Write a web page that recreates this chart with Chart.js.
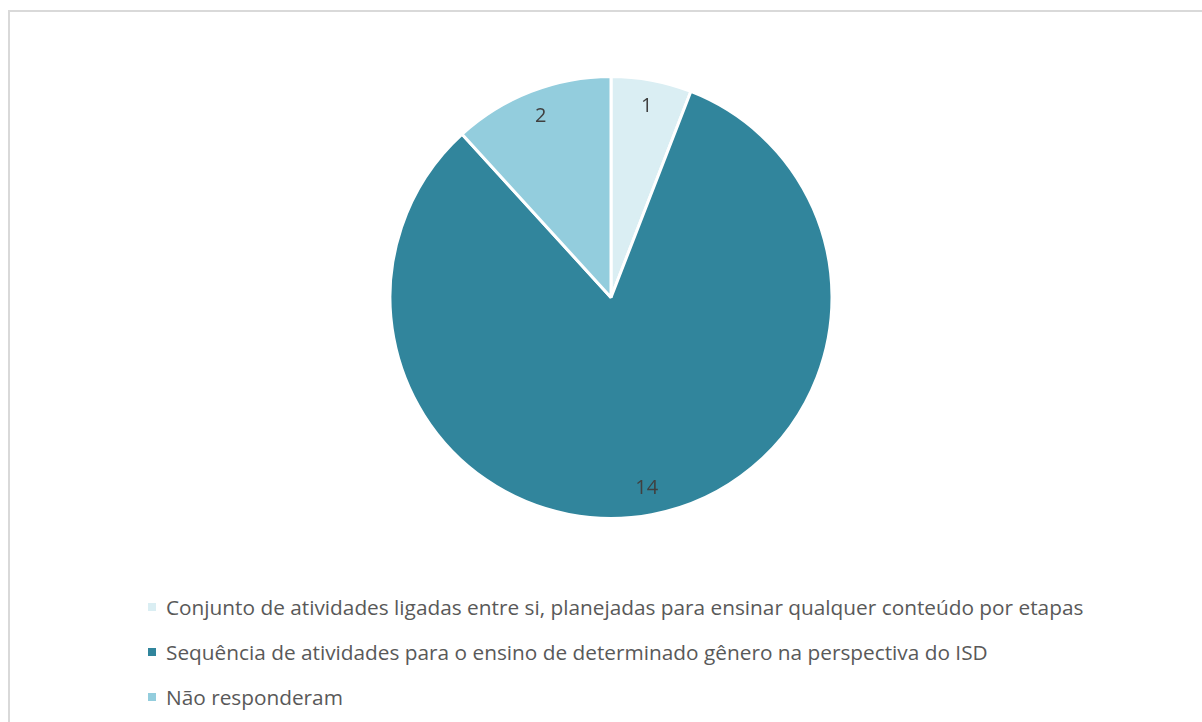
<!DOCTYPE html>
<html>
<head>
<meta charset="utf-8">
<script src="https://cdn.jsdelivr.net/npm/chart.js@4/dist/chart.umd.min.js"></script>
<style>
    html, body { margin: 0; padding: 0; background: #fff; width: 1202px; height: 722px; overflow: hidden; }
    .frame { position: absolute; left: 8px; top: 10px; width: 1300px; height: 800px; border: 2px solid #d9d9d9; box-sizing: border-box; }
    .chart-box { position: absolute; left: 0; top: 74.5px; width: 1222px; height: 445px; }
    .legend { position: absolute; left: 148px; top: 584px; font-family: "Open Sans", sans-serif; font-size: 20.8px; color: #595959; }
    .legend-item { height: 45px; display: flex; align-items: center; white-space: nowrap; }
    .legend-box { width: 8px; height: 8px; margin-right: 10px; flex: none; }
</style>
</head>
<body>
<div class="frame"></div>
<div class="chart-box"><canvas id="pieChart"></canvas></div>
<div class="legend" id="legend"></div>
<script>
// Chart data
const categories = [
    'Conjunto de atividades ligadas entre si, planejadas para ensinar qualquer conteúdo por etapas',
    'Sequência de atividades para o ensino de determinado gênero na perspectiva do ISD',
    'Não responderam'
];
const responses = [1, 14, 2];
const sliceColors = ['#daeef3', '#31859c', '#93cddd'];

// Value labels drawn inside each slice, near the outer edge
const sliceLabels = {
    id: 'sliceLabels',
    afterDatasetsDraw(chart) {
        const ctx = chart.ctx;
        const meta = chart.getDatasetMeta(0);
        ctx.save();
        ctx.font = '20px "Open Sans", sans-serif';
        ctx.fillStyle = '#404040';
        ctx.textAlign = 'center';
        ctx.textBaseline = 'middle';
        meta.data.forEach((arc, i) => {
            const p = arc.getProps(['x', 'y', 'startAngle', 'endAngle', 'outerRadius'], true);
            const mid = (p.startAngle + p.endAngle) / 2;
            const r = p.outerRadius * 0.88;
            ctx.fillText(String(responses[i]), p.x + Math.cos(mid) * r, p.y + Math.sin(mid) * r);
        });
        ctx.restore();
    }
};

new Chart(document.getElementById('pieChart'), {
    type: 'pie',
    data: {
        labels: categories,
        datasets: [{
            data: responses,
            backgroundColor: sliceColors,
            borderColor: '#ffffff',
            borderWidth: 3
        }]
    },
    options: {
        responsive: true,
        maintainAspectRatio: false,
        animation: false,
        layout: { padding: 0 },
        plugins: {
            legend: { display: false },
            tooltip: { enabled: false }
        }
    },
    plugins: [sliceLabels]
});

// Legend
const legendEl = document.getElementById('legend');
categories.forEach((label, i) => {
    const item = document.createElement('div');
    item.className = 'legend-item';
    item.innerHTML = `<span class="legend-box" style="background:${sliceColors[i]}"></span><span>${label}</span>`;
    legendEl.appendChild(item);
});
</script>
</body>
</html>
